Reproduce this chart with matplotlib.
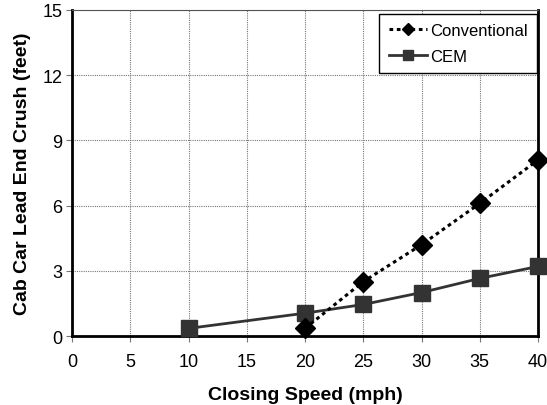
import matplotlib
matplotlib.use("Agg")
import matplotlib.pyplot as plt

plt.rcParams['font.family'] = ['Liberation Sans', 'DejaVu Sans']

conv_speed = [20, 25, 30, 35, 40]
conv_crush = [0.35, 2.5, 4.2, 6.1, 8.1]
cem_speed = [10, 20, 25, 30, 35, 40]
cem_crush = [0.35, 1.05, 1.45, 2.0, 2.65, 3.2]
xticks = [0, 5, 10, 15, 20, 25, 30, 35, 40]
yticks = [0, 3, 6, 9, 12, 15]

fig = plt.figure(figsize=(5.47, 4.06), dpi=100)
ax = fig.add_axes([72/547, 1-337/406, 466/547, 326/406])

ax.plot(conv_speed, conv_crush, linestyle=(0, (1.2, 1.2)), color='black', lw=2.2,
        marker='D', markersize=10, markerfacecolor='black', markeredgecolor='black',
        label='Conventional', clip_on=False, zorder=4)
ax.plot(cem_speed, cem_crush, linestyle='-', color='#333333', lw=2,
        marker='s', markersize=12, markerfacecolor='#333333', markeredgecolor='#333333',
        label='CEM', clip_on=False, zorder=3)

ax.set_xlim(0, 40)
ax.set_ylim(0, 15)
ax.set_xticks(xticks)
ax.set_yticks(yticks)
ax.grid(True, color='#777777', linestyle=(0, (1, 1)), lw=0.8)
ax.set_axisbelow(True)
for s in ['left', 'bottom', 'right']:
    ax.spines[s].set_linewidth(2)
    ax.spines[s].set_color('black')
ax.spines['top'].set_linewidth(0.8)
ax.spines['top'].set_color('#555555')
ax.tick_params(direction='out', length=4, width=0.8, color='#777777', labelsize=13, pad=3)
ax.tick_params(axis='x', pad=8)

ax.set_xlabel('Closing Speed (mph)', fontsize=14, fontweight='bold', labelpad=12)
ax.set_ylabel('Cab Car Lead End Crush (feet)', fontsize=14, fontweight='bold', labelpad=8)

leg = ax.legend(loc='upper right', bbox_to_anchor=(0.998, 0.988), fontsize=12, frameon=True,
                fancybox=False, edgecolor='black', framealpha=1, handlelength=2.3,
                borderpad=0.55, labelspacing=0.65, handletextpad=0.2, borderaxespad=0)
leg.get_frame().set_linewidth(1)
leg.legend_handles[0].set_markersize(6.5)
leg.legend_handles[1].set_markersize(7.5)

fig.savefig('out.png', dpi=100)
